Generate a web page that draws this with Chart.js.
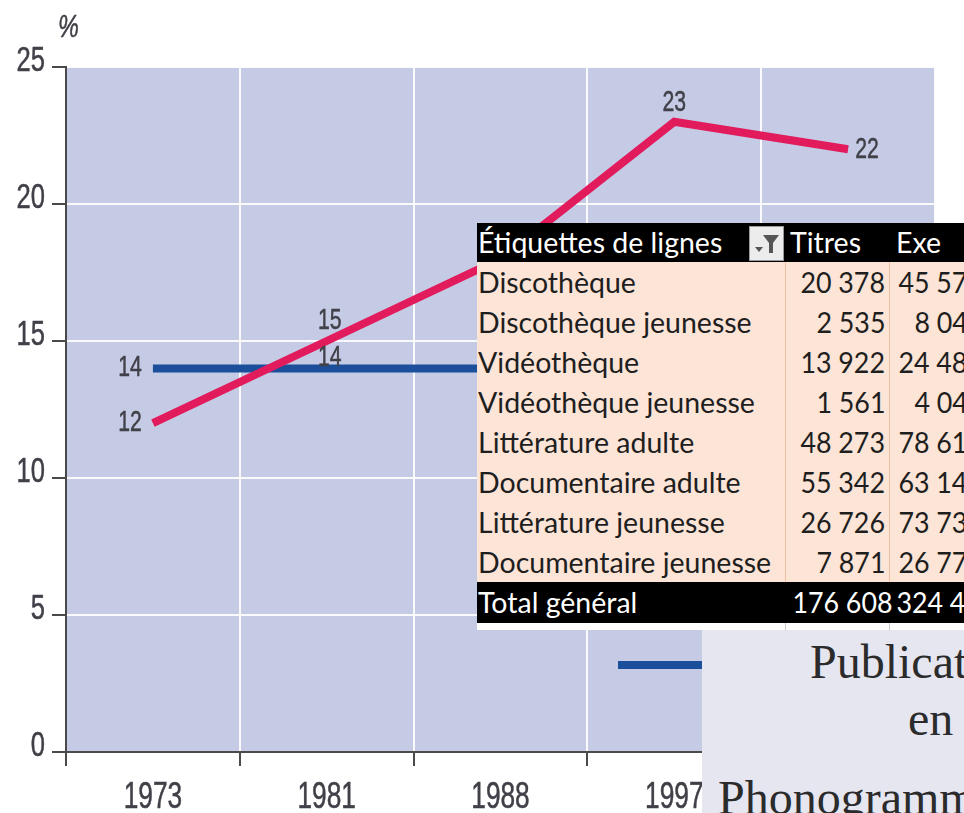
<!DOCTYPE html>
<html lang="fr">
<head>
<meta charset="UTF-8">
<title>Graphique et tableau</title>
<script src="https://cdn.jsdelivr.net/npm/chart.js@4.4.1/dist/chart.umd.min.js"></script>
<style>
  html, body { margin: 0; padding: 0; background: #fff; overflow: hidden; }
  #wrap { position: relative; width: 964px; height: 813px; overflow: hidden; }
  #chart { position: absolute; left: 0; top: 0; }

  /* tableau croisé collé par-dessus */
  #tbl { position: absolute; left: 477px; top: 223px; width: 487px; height: 407px;
         background: #fff; overflow: hidden; font-family: Lato, "Noto Sans", sans-serif; }
  .row { display: flex; width: 620px; height: 40px; line-height: 40px; white-space: nowrap; }
  .row > div { flex: none; }
  .row.head, .row.total { background: #000; color: #fff; }
  .row.body { background: #fce4d6; color: #1e1e1e; }
  .c1 { width: 307px; padding-left: 1px; position: relative; }
  .c2 { width: 99px; padding-right: 4px; text-align: right; border-left: 1px solid transparent; }
  .c3 { width: 93px; padding-right: 4px; text-align: right; border-left: 1px solid transparent; }
  .num { display: inline-block; transform: scaleX(0.94); transform-origin: right center; }
  .row.body .c2, .row.body .c3 { border-left-color: #f4c0a0; }
  .row.head .c2, .row.head .c3 { text-align: left; }
  .row.head .c2 { padding-left: 4px; width: 99px; padding-right: 0; }
  .row.head .c3 { padding-left: 6px; width: 91px; padding-right: 0; }
  .row.strip { height: 7px; background: #fff; }
  .row.strip .c2, .row.strip .c3 { border-left-color: #ccc; }
  #filter { position: absolute; left: 272px; top: 3px; width: 33px; height: 33px;
            background: #ececec; border: 1px solid #999; }

  /* encadré de texte */
  #note { position: absolute; left: 702px; top: 630px; width: 262px; height: 183px;
          background: #e6e6f1; overflow: hidden; color: #2b2b2b;
          font-family: "Liberation Serif", "DejaVu Serif", serif; font-size: 48px; line-height: 48px; }
  #note span { position: absolute; white-space: nowrap; }
</style>
</head>
<body>
<div id="wrap">
  <canvas id="chart" width="964" height="813"></canvas>
  <div id="tbl"></div>
  <div id="note">
    <span style="left:108px; top:8px;">Publications</span>
    <span style="left:206px; top:65px;">en</span>
    <span style="left:16px; top:144px;">Phonogrammes</span>
  </div>
</div>

<script>
// --- données du graphique ---
var years = ['1973', '1981', '1988', '1997', '2008'];
var pinkValues = [12, 15, 18, 23, 22];
var blueValues = [14, 14, 14, 13, 12];   // au-delà de 1981 masqué par le tableau
var yTickValues = [0, 5, 10, 15, 20, 25];

// --- données du tableau ---
var rowLabels = ['Discothèque', 'Discothèque jeunesse', 'Vidéothèque', 'Vidéothèque jeunesse',
                 'Littérature adulte', 'Documentaire adulte', 'Littérature jeunesse', 'Documentaire jeunesse'];
var titres = ['20 378', '2 535', '13 922', '1 561', '48 273', '55 342', '26 726', '7 871'];
var exemplaires = ['45 572', '8 046', '24 483', '4 047', '78 615', '63 148', '73 735', '26 772'];
var totalLabel = 'Total général';
var totalTitres = '176 608';
var totalExemplaires = '324 418';

// placement des étiquettes de valeur (style)
var pinkLabelPlace = [{dx: -23, dy: 0}, {dx: 3, dy: -20}, null, {dx: 0, dy: -19}, {dx: 19, dy: 1}];
var blueLabelPlace = [{dx: -23, dy: 0}, {dx: 3, dy: -10}, null, null, null];

var PINK = '#e21b5c';
var BLUE = '#1b4f9c';
var AXIS = '#4a4a4a';
var TEXT = '#404048';

// texte « condensé » : Liberation Sans compressée horizontalement
function narrowText(ctx, text, x, y, size, align, baseline, style) {
  ctx.save();
  ctx.font = (style || '') + ' ' + size + 'px "Liberation Sans", Arial, sans-serif';
  ctx.textAlign = align;
  ctx.textBaseline = baseline;
  ctx.translate(x, y);
  ctx.scale(0.73, 1);
  ctx.strokeStyle = ctx.fillStyle;
  ctx.lineWidth = 0.5;
  ctx.fillText(text, 0, 0);
  ctx.strokeText(text, 0, 0);
  ctx.restore();
}

// fond du cadre, libellés d'axes, étiquettes, % et échantillon de légende
var extras = {
  id: 'extras',
  beforeDraw: function(chart) {
    var a = chart.chartArea, ctx = chart.ctx;
    ctx.save();
    ctx.fillStyle = '#c5cbe5';
    ctx.fillRect(a.left, a.top, a.right - a.left, a.bottom - a.top);
    ctx.restore();
  },
  afterDatasetsDraw: function(chart) {
    var ctx = chart.ctx;
    ctx.fillStyle = TEXT;
    chart.data.datasets.forEach(function(ds, i) {
      var meta = chart.getDatasetMeta(i);
      meta.data.forEach(function(pt, j) {
        var p = ds.labelPlace[j];
        if (!p) return;
        narrowText(ctx, String(ds.data[j]), pt.x + p.dx, pt.y + p.dy, 29, 'center', 'middle');
      });
    });
  },
  afterDraw: function(chart) {
    var ctx = chart.ctx, a = chart.chartArea;
    var xs = chart.scales.x, ys = chart.scales.y;
    ctx.fillStyle = TEXT;
    // libellés de l'axe des x
    xs.ticks.forEach(function(t, i) {
      narrowText(ctx, xs.getLabelForValue(t.value), xs.getPixelForTick(i), a.bottom + 56, 36, 'center', 'alphabetic');
    });
    // libellés de l'axe des y
    ys.ticks.forEach(function(t, i) {
      narrowText(ctx, String(t.value), a.left - 21, ys.getPixelForTick(i) + 4, 35, 'right', 'alphabetic');
    });
    narrowText(ctx, '%', a.left - 8, a.top - 30, 32, 'left', 'alphabetic', 'italic');

    // échantillon de légende (texte caché par l'encadré)
    ctx.save();
    ctx.strokeStyle = BLUE;
    ctx.lineWidth = 8;
    ctx.beginPath();
    ctx.moveTo(618, 665);
    ctx.lineTo(704, 665);
    ctx.stroke();
    ctx.restore();
  }
};

new Chart(document.getElementById('chart').getContext('2d'), {
  type: 'line',
  data: {
    labels: years,
    datasets: [{
      label: 'Série rose',
      data: pinkValues,
      borderColor: PINK,
      borderWidth: 8,
      pointRadius: 0,
      tension: 0,
      labelPlace: pinkLabelPlace
    }, {
      label: 'Série bleue',
      data: blueValues,
      borderColor: BLUE,
      borderWidth: 8,
      pointRadius: 0,
      tension: 0,
      labelPlace: blueLabelPlace
    }]
  },
  options: {
    responsive: false,
    animation: false,
    devicePixelRatio: 1,
    layout: { padding: { top: 67, right: 29, left: 0, bottom: 0 } },
    plugins: { legend: { display: false }, tooltip: { enabled: false } },
    scales: {
      x: {
        offset: true,
        grid: {
          offset: true,
          color: function(c) { return c.index === 0 ? 'rgba(0,0,0,0)' : 'rgba(255,255,255,0.9)'; },
          lineWidth: 2,
          tickColor: AXIS,
          tickLength: 14,
          tickWidth: 2
        },
        border: { color: AXIS, width: 2 },
        ticks: { display: false },
        afterFit: function(s) { s.height = 61; }
      },
      y: {
        min: 0,
        max: 25,
        afterBuildTicks: function(s) { s.ticks = yTickValues.map(function(v) { return { value: v }; }); },
        grid: {
          color: function(c) { return c.tick && c.tick.value === 0 ? 'rgba(0,0,0,0)' : 'rgba(255,255,255,0.9)'; },
          lineWidth: 2,
          tickColor: AXIS,
          tickLength: 14,
          tickWidth: 2
        },
        border: { color: AXIS, width: 2 },
        ticks: { display: false },
        afterFit: function(s) { s.width = 66; }
      }
    }
  },
  plugins: [extras]
});

// --- tableau ---
(function() {
  var tbl = document.getElementById('tbl');
  var m = document.createElement('canvas').getContext('2d');
  m.font = '100px Lato';
  var size = 100 * 244 / m.measureText('Étiquettes de lignes').width;
  tbl.style.fontSize = size.toFixed(1) + 'px';

  function row(cls, a, b, c, numeric) {
    var r = document.createElement('div');
    r.className = 'row ' + cls;
    [a, b, c].forEach(function(t, i) {
      var d = document.createElement('div');
      d.className = 'c' + (i + 1);
      if (numeric && i > 0) {
        var s = document.createElement('span');
        s.className = 'num';
        s.textContent = t;
        d.appendChild(s);
      } else {
        d.textContent = t;
      }
      r.appendChild(d);
    });
    tbl.appendChild(r);
    return r;
  }

  var h = row('head', 'Étiquettes de lignes', 'Titres', 'Exe', false);
  h.style.height = '39px';
  h.style.lineHeight = '39px';
  var f = document.createElement('div');
  f.id = 'filter';
  f.innerHTML = '<svg width="33" height="33" viewBox="0 0 33 33">' +
    '<polygon points="13,8 29,8 23,16 23,26 19,26 19,16" fill="#555"/>' +
    '<polygon points="5,20 13,20 9,25" fill="#555"/></svg>';
  h.firstChild.appendChild(f);

  for (var i = 0; i < rowLabels.length; i++) {
    row('body', rowLabels[i], titres[i], exemplaires[i], true);
  }
  var t = row('total', totalLabel, totalTitres, totalExemplaires, true);
  t.style.height = '41px';
  t.style.lineHeight = '41px';
  row('strip', '', '', '', false);
})();
</script>
</body>
</html>
